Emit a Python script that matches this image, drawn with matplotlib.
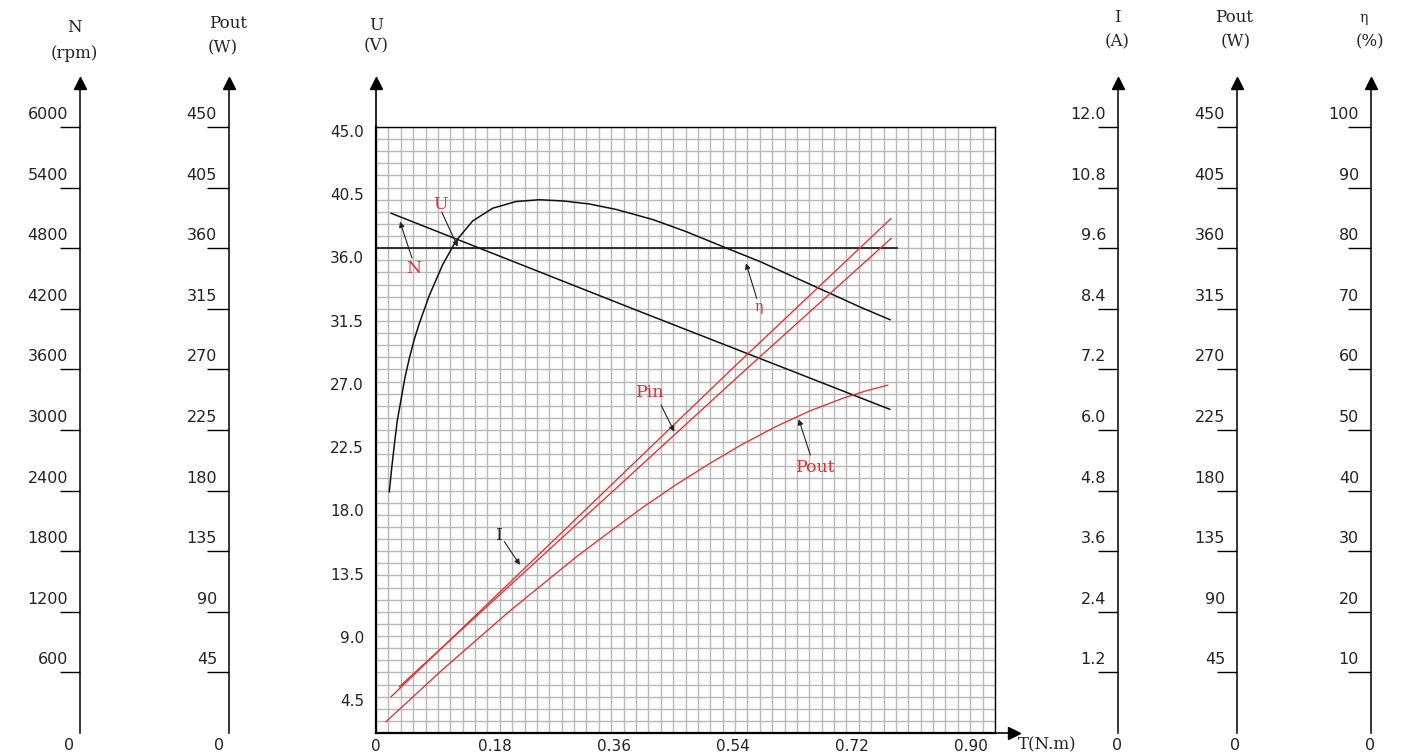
import matplotlib
matplotlib.use('Agg')
import matplotlib.pyplot as plt
import numpy as np
from matplotlib.transforms import ScaledTranslation

W, H, DPI = 1420, 755, 100
RED = '#e2302c'
SERIF = 'DejaVu Serif'

# ---------------- data ----------------
T_eta = [0.0193, 0.0230, 0.0266, 0.0310, 0.0364, 0.0420, 0.0484, 0.0555, 0.0630,
         0.0775, 0.0970, 0.1163, 0.1406, 0.1697, 0.2036, 0.2374, 0.2715, 0.3101,
         0.3490, 0.3780, 0.4032, 0.4518, 0.5099, 0.5583, 0.6067, 0.6553, 0.7037,
         0.7473]
eta_pct = [39.8, 43.9, 47.5, 51.6, 55.0, 58.6, 61.8, 64.9, 67.6,
           72.2, 77.3, 81.2, 84.5, 86.6, 87.7, 88.0, 87.8, 87.3,
           86.4, 85.5, 84.7, 82.7, 80.0, 77.8, 75.3, 72.8, 70.3,
           68.2]

T_speed = [0.022, 0.378, 0.747]
speed_rpm = [5146, 4188, 3205]

T_current = [0.022, 0.516, 0.749]
current_A = [0.72, 7.19, 10.19]

T_pin = [0.034, 0.537, 0.749]
pin_W = [34.4, 269.6, 367.3]

T_pout = [0.0145, 0.097, 0.194, 0.291, 0.340, 0.388, 0.436, 0.485, 0.533, 0.582,
          0.630, 0.679, 0.712, 0.744]
pout_W = [8.4, 47.2, 90.4, 130.7, 149.5, 167.6, 184.3, 200.1, 214.5, 227.7,
          239.0, 248.6, 254.0, 258.3]

T_volt = [0.0, 0.757]
volt_V = [36.0, 36.0]

torque_ticks = [0, 0.18, 0.36, 0.54, 0.72, 0.90]
torque_labels = ['0', '0.18', '0.36', '0.54', '0.72', '0.90']
volt_ticks = [4.5, 9.0, 13.5, 18.0, 22.5, 27.0, 31.5, 36.0, 40.5, 45.0]
speed_ticks = [600, 1200, 1800, 2400, 3000, 3600, 4200, 4800, 5400, 6000]
pout_ticks = [45, 90, 135, 180, 225, 270, 315, 360, 405, 450]
current_ticks = [1.2, 2.4, 3.6, 4.8, 6.0, 7.2, 8.4, 9.6, 10.8, 12.0]
eta_ticks = [10, 20, 30, 40, 50, 60, 70, 80, 90, 100]

T_MAX, U_MAX, N_MAX, P_MAX, I_MAX, ETA_MAX = 0.9, 45, 6000, 450, 12, 100

# ---------------- figure ----------------
fig = plt.figure(figsize=(W / DPI, H / DPI), dpi=DPI)


def px(n):
    return n / DPI


def off(dx, dy):
    return ScaledTranslation(px(dx), px(dy), fig.dpi_scale_trans)


L, R, TOP, BOT = 376, 995, 127, 733
ARROW_BASE = 89
main_rect = [L / W, 1 - BOT / H, (R - L) / W, (BOT - TOP) / H]

ax = fig.add_axes(main_rect)
ax.set_xlim(0, T_MAX)
ax.set_ylim(0, U_MAX)
ax.set_xticks(np.linspace(0, T_MAX, 51))
ax.set_yticks(np.linspace(0, U_MAX, 51))
ax.tick_params(length=0, labelbottom=False, labelleft=False)
ax.grid(True, color='#b8b8b8', lw=1.0)
ax.set_axisbelow(True)
for s in ['left', 'bottom']:
    ax.spines[s].set_linewidth(1.6)
for s in ['top', 'right']:
    ax.spines[s].set_linewidth(1.0)

# axis arrows for the main plot
ax.plot([0, 0], [1, 1 + (TOP - ARROW_BASE) / (BOT - TOP)], transform=ax.transAxes,
        clip_on=False, color='black', lw=1.2)
ax.plot([0], [1], marker='^', ms=9, color='black', clip_on=False,
        transform=ax.transAxes + off(0, TOP - ARROW_BASE + 6))
ax.plot([1, 1 + 13 / (R - L)], [0, 0], transform=ax.transAxes, clip_on=False,
        color='black', lw=1.2)
ax.plot([1], [0], marker='>', ms=9, color='black', clip_on=False,
        transform=ax.transAxes + off(19, 0))

# U curve on main axes
ax.plot(T_volt, volt_V, color='#222222', lw=1.3)


def overlay(ymax):
    o = fig.add_axes(main_rect)
    o.set_xlim(0, T_MAX)
    o.set_ylim(0, ymax)
    o.axis('off')
    o.patch.set_visible(False)
    return o


ax_n = overlay(N_MAX)
ax_n.plot(T_speed, speed_rpm, color='#111111', lw=1.1)
ax_eta = overlay(ETA_MAX)
ax_eta.plot(T_eta, eta_pct, color='#111111', lw=1.1)
ax_i = overlay(I_MAX)
ax_i.plot(T_current, current_A, color=RED, lw=0.95)
ax_p = overlay(P_MAX)
ax_p.plot(T_pin, pin_W, color=RED, lw=0.95)
ax_p.plot(T_pout, pout_W, color=RED, lw=0.95)

# annotations (label, text pos, arrow tail, arrow tip, colour) in (T, U) coords
annotations = [
    ('U', (0.0931, 39.21), (0.0955, 38.69), (0.1188, 36.11), RED, 12.5),
    ('N', (0.0553, 34.46), (0.0523, 35.27), (0.0349, 37.97), RED, 12.5),
    ('η', (0.5569, 31.65), (0.5535, 32.28), (0.5380, 34.88), RED, 10),
    ('Pin', (0.3984, 25.25), (0.4144, 24.36), (0.4337, 22.37), RED, 12.5),
    ('I', (0.1793, 14.70), (0.1866, 14.21), (0.2094, 12.48), '#222222', 12.5),
    ('Pout', (0.6398, 19.73), (0.6315, 20.64), (0.6146, 23.30), RED, 12.5),
]
for s, tp, tail, tip, c, fs in annotations:
    ax_p.annotate('', xy=(tip[0], tip[1] / U_MAX * P_MAX), xytext=(tail[0], tail[1] / U_MAX * P_MAX),
                  arrowprops=dict(arrowstyle='-|>', color='#222222', lw=0.8,
                                  mutation_scale=8, shrinkA=0, shrinkB=0))
    ax_p.text(tp[0], tp[1] / U_MAX * P_MAX, s, color=c, family=SERIF, fontsize=fs,
              ha='center', va='center')

# tick label axis for U and T (labels are set slightly off the grid in the reference)
axl = fig.add_axes(main_rect, frameon=False)
axl.patch.set_visible(False)
axl.set_xlim(0.0174, 0.936)
axl.set_ylim(2.15, 45.28)
axl.set_xticks(torque_ticks, torque_labels)
axl.set_yticks(volt_ticks, [f'{v:.1f}' for v in volt_ticks])
axl.tick_params(axis='x', length=0, labelsize=11, pad=4.3, labelcolor='#222222')
axl.tick_params(axis='y', length=0, labelsize=11, pad=8.6, labelcolor='#222222')


def side_axis(xpix, vmax, ticks, fmt, zero_dx, ticklen=20):
    a = fig.add_axes([xpix / W, 1 - BOT / H, 0.0005, (BOT - ARROW_BASE) / H])
    a.set_ylim(0, vmax * (BOT - ARROW_BASE) / (BOT - TOP))
    a.patch.set_visible(False)
    for s in ['top', 'right', 'bottom']:
        a.spines[s].set_visible(False)
    a.spines['left'].set_linewidth(1.1)
    a.set_xticks([])
    a.set_yticks(ticks, [fmt.format(t) for t in ticks])
    a.tick_params(axis='y', direction='out', length=ticklen * 72 / DPI, width=1.0,
                  pad=0, labelsize=11.5, labelcolor='#222222')
    o = off(ticklen - 12, 14)
    for lab in a.get_yticklabels():
        lab.set_transform(lab.get_transform() + o)
    a.plot([0], [1], marker='^', ms=9, color='black', clip_on=False,
           transform=a.transAxes + off(0, 6))
    a.text(0, 0, '0', transform=a.transAxes + off(zero_dx, -12), ha='center',
           va='center', fontsize=11.5, color='#222222')
    return a


side_axis(80, N_MAX, speed_ticks, '{:d}', -11)
side_axis(229, P_MAX, pout_ticks, '{:d}', -10, ticklen=22)
side_axis(1118, I_MAX, current_ticks, '{:.1f}', -1)
side_axis(1237, P_MAX, pout_ticks, '{:d}', -2)
side_axis(1371, ETA_MAX, eta_ticks, '{:d}', -1, ticklen=23)

# axis titles
titles = [('N', 74, 27), ('(rpm)', 74, 53), ('Pout', 228, 23), ('(W)', 223, 48),
          ('U', 376, 25), ('(V)', 376, 46), ('I', 1117, 17), ('(A)', 1117, 42),
          ('Pout', 1234, 17), ('(W)', 1236, 42), ('η', 1364, 18), ('(%)', 1370, 42),
          ('T(N.m)', 1047, 745)]
for s, x, y in titles:
    fig.text(x / W, 1 - y / H, s, family=SERIF, fontsize=12 if s != 'η' else 10,
             ha='center', va='center', color='#222222')

fig.savefig('out.png', dpi=DPI)
